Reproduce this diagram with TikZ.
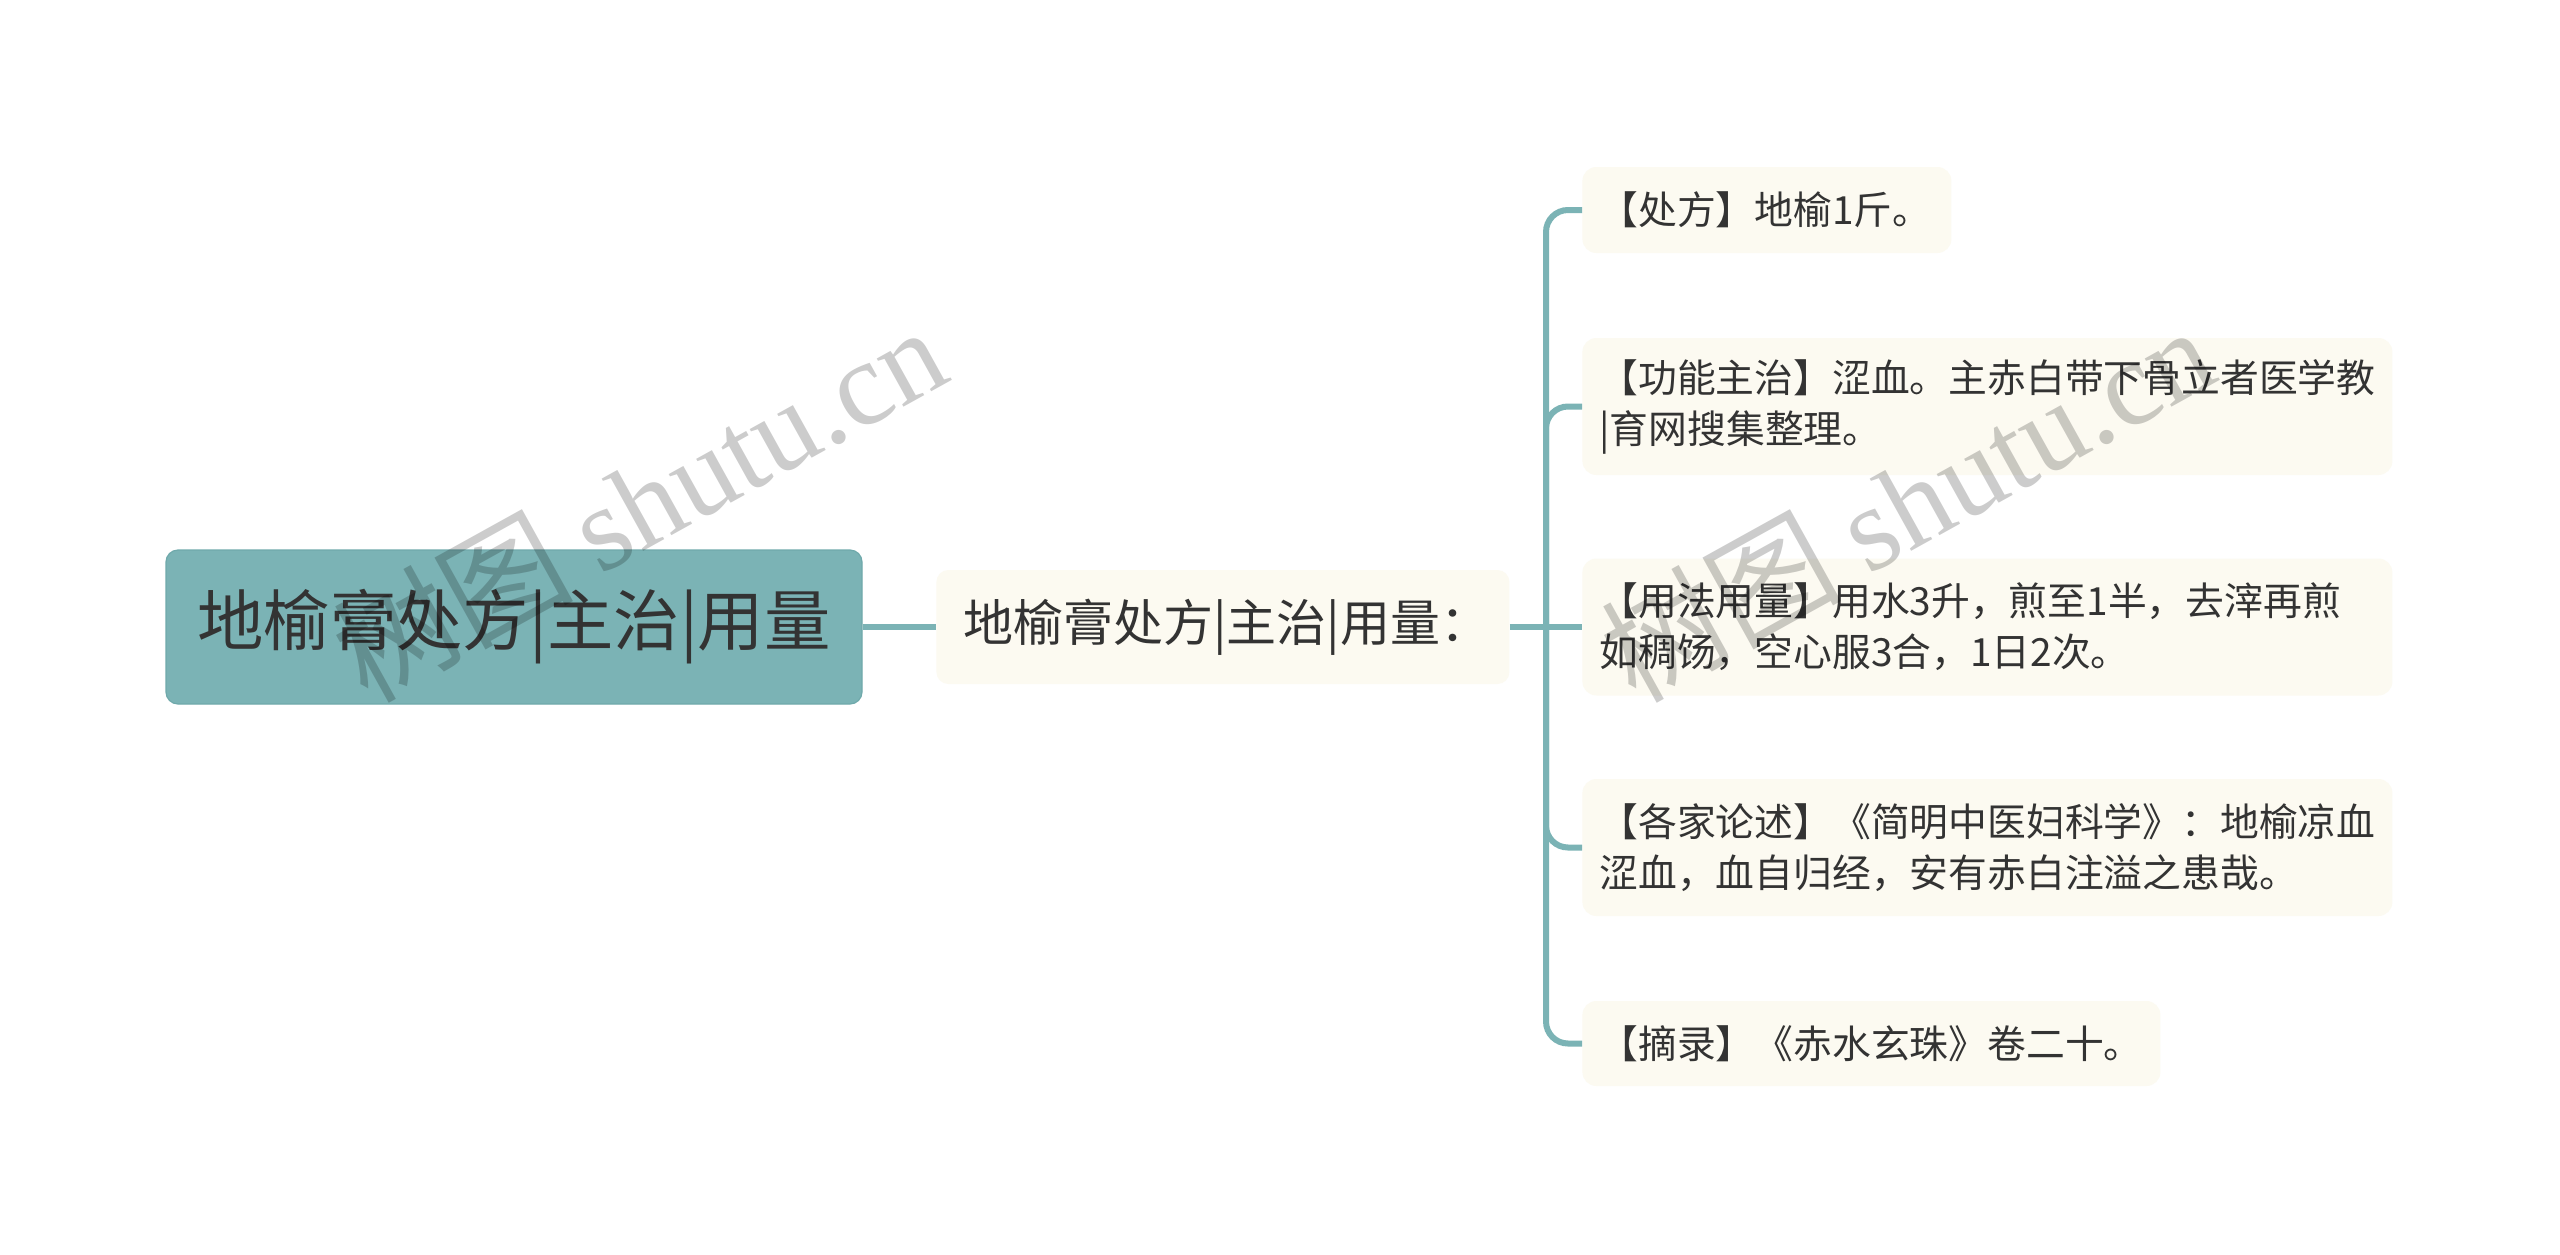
\documentclass[tikz,border=0pt]{standalone}
\usepackage{fontspec}
\setmainfont{Noto Sans CJK SC}
\newfontfamily\wmlatin{Liberation Serif}
\definecolor{mmteal}{HTML}{7BB3B5}
\definecolor{mmtealdark}{HTML}{6FA9AB}
\definecolor{mmcream}{HTML}{FCFAF1}
\definecolor{mmtext}{HTML}{333333}
\begin{document}
\begin{tikzpicture}[x=0.5pt,y=-0.5pt,
  conn/.style={draw=mmteal, line width=3pt},
  rootbox/.style={fill=mmteal, draw=mmtealdark, line width=0.6pt, rounded corners=6pt, text=mmtext,
    minimum width=348pt, minimum height=77pt, inner sep=0pt,
    font=\fontsize{33.2}{40}\selectfont},
  midbox/.style={fill=mmcream, rounded corners=6pt, text=mmtext,
    text width=259.5pt, align=left, inner xsep=13.5pt, inner ysep=0pt,
    minimum height=57pt, font=\fontsize{25}{30}\selectfont},
  leaf/.style={fill=mmcream, rounded corners=7pt, text=mmtext,
    align=left, inner xsep=8.5pt, inner ysep=0pt,
    font=\fontsize{19.4}{25.5}\selectfont},
  wm/.style={text=black, text opacity=0.2, inner sep=0pt,
    font=\fontsize{60}{60}\selectfont}
]
\useasboundingbox (0,0) rectangle (2560,1254);
\fill[white] (0,0) rectangle (2560,1254);

\node[rootbox] (root) at (514,627) {地榆膏处方|主治|用量};
\node[midbox, anchor=west] (mid) at (936,627) {地榆膏处方|主治|用量：};
\coordinate (j) at (1546,627);

\node[leaf, anchor=west, text width=167.5pt, minimum height=43pt] (c1) at (1582,210) {【处方】地榆1斤。};
\node[leaf, anchor=west, text width=388pt, minimum height=68.5pt] (c2) at (1582,406.5) {【功能主治】涩血。主赤白带下骨立者医学教\\|育网搜集整理。};
\node[leaf, anchor=west, text width=388pt, minimum height=68.5pt] (c3) at (1582,627) {【用法用量】用水3升，煎至1半，去滓再煎\\如稠饧，空心服3合，1日2次。};
\node[leaf, anchor=west, text width=388pt, minimum height=68.5pt] (c4) at (1582,847.5) {【各家论述】《简明中医妇科学》：地榆凉血\\涩血，血自归经，安有赤白注溢之患哉。};
\node[leaf, anchor=west, text width=272pt, minimum height=42.5pt] (c5) at (1582,1043.5) {【摘录】《赤水玄珠》卷二十。};

\draw[conn] (root.east) -- (mid.west);
\draw[conn] (mid.east) -- (j);
\foreach \c in {c1,c2,c4,c5} \draw[conn, rounded corners=11pt] (j) |- (\c.west);
\draw[conn] (j) -- (c3.west);

\node[wm, anchor=base west, rotate=29] (w1) at (367,705) {树图 {\wmlatin shutu.cn}};
\node[wm, anchor=base west, rotate=29] (w2) at (1635,705) {树图 {\wmlatin shutu.cn}};
\end{tikzpicture}
\end{document}
